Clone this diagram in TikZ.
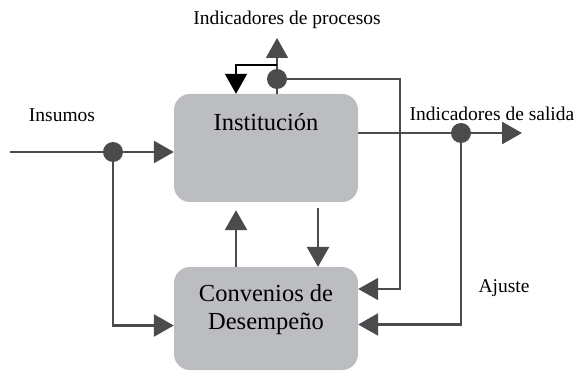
\documentclass[tikz,border=0pt]{standalone}
\usepackage{fontspec}
\setmainfont{Liberation Serif}
\usetikzlibrary{arrows.meta}

\definecolor{boxgray}{HTML}{BCBDC0}
\definecolor{linegray}{HTML}{4B4B4D}

\tikzset{
  blockbox/.style={rectangle,rounded corners=16pt,fill=boxgray,draw=none,
    minimum width=184pt,inner sep=0pt},
  blocktext/.style={font=\fontsize{24.5}{28}\selectfont,align=center,inner sep=0pt},
  tag/.style={font=\fontsize{19.5}{23}\selectfont,inner sep=0pt,anchor=base},
  dot/.style={circle,fill=linegray,minimum size=20pt,inner sep=0pt},
  flow/.style={draw=linegray,line width=2.7pt,
    -{Triangle[length=20pt,width=22pt]}},
  thinflow/.style={flow,line width=1.8pt},
  backflow/.style={draw=black,line width=2pt,
    -{Triangle[length=20pt,width=22pt]}},
}

\begin{document}
\begin{tikzpicture}[x=1pt,y=-1pt]
      \useasboundingbox (0,0) rectangle (578,371);

      % boxes
      \node[blockbox,minimum height=108pt] (inst) at (266,148) {};
      \node[blockbox,minimum height=103pt] (conv) at (266,318.5) {};
      \node[blocktext,anchor=base] (insttext) at (266,131) {Instituci\'on};
      \node[blocktext] (convtext) at (266,310) {Convenios de\\Desempe\~no};

      % junctions and free ends
      \coordinate (start) at (10,152);
      \coordinate (j1) at (113,152);
      \coordinate (j2) at (277,79);
      \coordinate (j3) at (461,133);
      \coordinate (out) at (522,133);
      \coordinate (up) at (277,38);
      \coordinate (split) at (277,65);

      % connectors
      \draw[flow] (start) -- (inst.west |- start);
      \draw[flow] (j1) |- ([yshift=-7pt]conv.west);
      \draw[flow] (inst.east |- j3) -- (out);
      \draw[flow] (j3) |- ([yshift=-6pt]conv.east);
      \draw[thinflow] (j2) -| ([xshift=42pt,yshift=29.5pt]conv.east)
        -- ([yshift=29.5pt]conv.east);
      \draw[thinflow] (inst.north -| j2) -- (up);
      \draw[backflow] (split) -| ([xshift=-30pt]inst.north);
      \draw[flow] ([xshift=-30pt]conv.north) -- ([xshift=-30pt,yshift=-8pt]inst.south);
      \draw[flow] ([xshift=52pt,yshift=-6pt]inst.south) -- ([xshift=52pt]conv.north);

      \node[dot] (d1) at (j1) {};
      \node[dot] (d2) at (j2) {};
      \node[dot] (d3) at (j3) {};

      % labels
      \node[tag] (insumos) at (62,122) {Insumos};
      \node[tag] (procesos) at (287,25) {Indicadores de procesos};
      \node[tag] (salida) at (492,121) {Indicadores de salida};
      \node[tag] (ajuste) at (504,293) {Ajuste};

\end{tikzpicture}
\end{document}
